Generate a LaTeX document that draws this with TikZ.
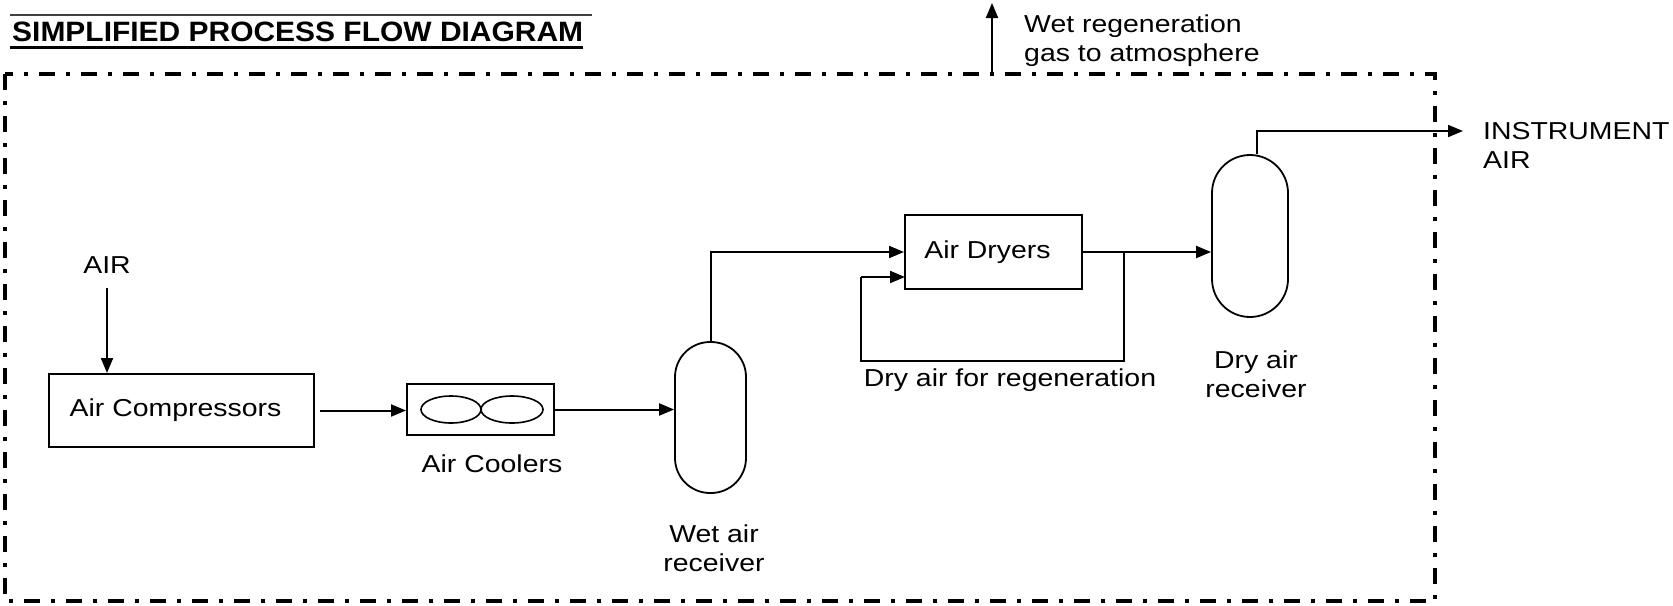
\documentclass[tikz,border=0pt]{standalone}
\usepackage{fontspec}
\setmainfont{Liberation Sans}[FakeStretch=1.16]
\newfontfamily\titlefont{Liberation Sans}[FakeStretch=1.07]
\usetikzlibrary{arrows.meta,calc}
\begin{document}
\begin{tikzpicture}[x=1pt,y=-1pt,
  every node/.style={font=\fontsize{24.5}{29}\selectfont, inner sep=0pt},
  lbl/.style={align=center},
  unit/.style={draw, line width=2pt, minimum width=#1},
  vessel/.style={draw, line width=1.8pt, rounded corners=35pt},
  flow/.style={line width=2pt, -{Triangle[length=15pt,width=12pt]}},
  pipe/.style={line width=2pt},
  border/.style={line width=4pt, dash pattern=on 16pt off 11pt on 4pt off 11pt}]
\useasboundingbox (0,0) rectangle (1673,605);

% title
\node[anchor=base west, font=\titlefont\bfseries\fontsize{28}{30}\selectfont] (title) at (12,41) {SIMPLIFIED PROCESS FLOW DIAGRAM};
\draw[line width=2pt, black!75] (10,15) -- (592,15);
\draw[line width=3pt] (10,47) -- (583,47);

% boundary
\draw[border] (5,74) rectangle (1435,601);

% units
\node[unit=265, minimum height=73] (comp) at (181.5,410.5) {Air Compressors\kern12pt};
\node[unit=147, minimum height=51] (cool) at (480.5,409.5) {};
\draw[line width=1.6pt] (451,409.5) ellipse (30 and 13.5);
\draw[line width=1.6pt] (512,409.5) ellipse (31 and 13.5);
\node[unit=177, minimum height=74] (dryers) at (993.5,252) {Air Dryers\kern12pt};
\node[vessel, minimum width=71, minimum height=151] (wet) at (710.5,417.5) {};
\node[vessel, minimum width=76, minimum height=162, rounded corners=38pt] (dryv) at (1250,236) {};

% labels
\node[anchor=base] (airlbl) at (107,273) {AIR};
\node[anchor=base] (coollbl) at (492,472) {Air Coolers};
\node[lbl, anchor=base] (wetlbl) at (714,571) {Wet air\\receiver};
\node[lbl, anchor=base] (drylbl) at (1256,397) {Dry air\\receiver};
\node[anchor=base] (reglbl) at (1010,386) {Dry air for regeneration};
\node[align=left, anchor=base west] (wetgas) at (1024,61) {Wet regeneration\\gas to atmosphere};
\node[align=left, anchor=base west] (instr) at (1483,168) {INSTRUMENT\\AIR};

% coordinates
\coordinate (vent0) at (992,74);
\coordinate (vent1) at (992,3);
\coordinate (ia) at (1463,131);
\coordinate (br) at (1124,252);
\coordinate (lp1) at (1124,361);
\coordinate (lp2) at (861,361);
\coordinate (lp3) at (861,277);
\coordinate (din2) at (905,277);

% connectors
\draw[flow, shorten <=15pt] (airlbl.south) -- (airlbl.south |- comp.north);
\draw[flow, shorten <=5pt] (comp.east) -- (comp.east -| cool.west);
\draw[flow] (cool.east) -- (cool.east -| wet.west);
\draw[flow] (wet.north) |- (dryers.west);
\draw[flow] (dryers.east) -- (dryers.east -| dryv.west);
\draw[pipe] (br) -- (lp1) -- (lp2) -- (lp3);
\draw[flow] (lp3) -- (din2);
\draw[flow] ([xshift=7pt]dryv.north) |- (ia);
\draw[flow] (vent0) -- (vent1);
\end{tikzpicture}
\end{document}
